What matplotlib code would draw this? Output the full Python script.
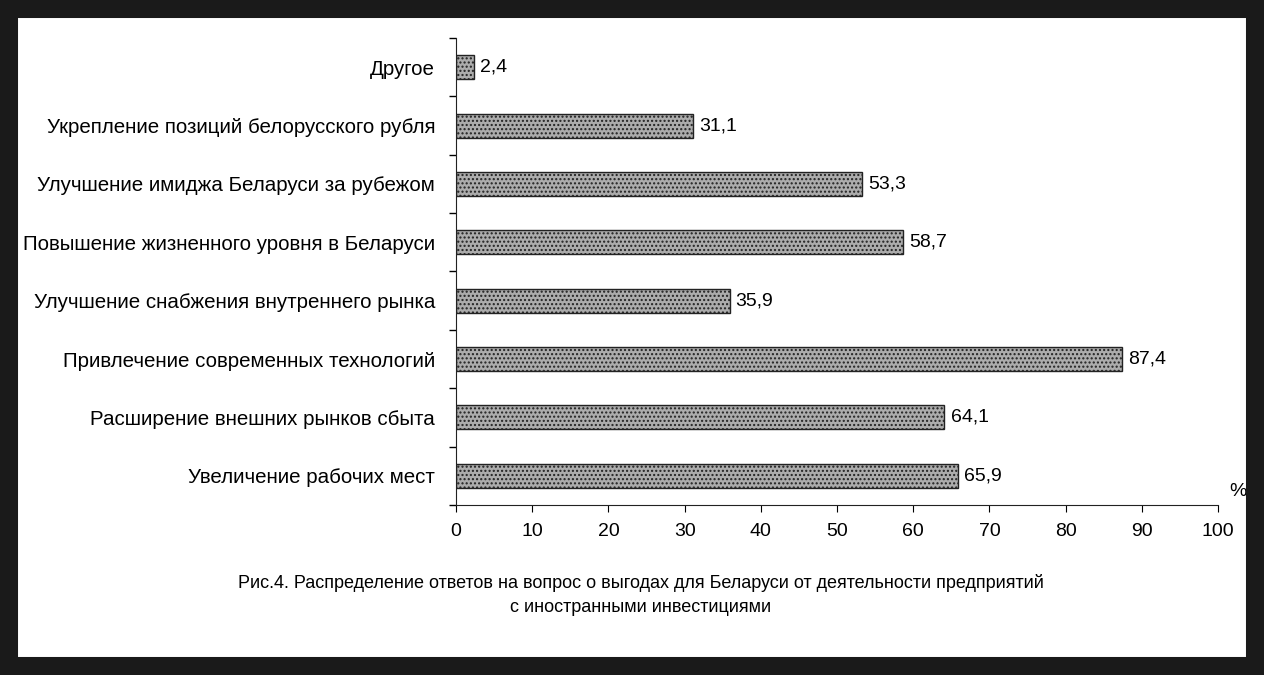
import matplotlib.pyplot as plt
from matplotlib.patches import Rectangle

plt.rcParams['font.family'] = ['Liberation Sans', 'DejaVu Sans']
plt.rcParams['hatch.color'] = '#7a7a7a'

categories = ['Увеличение рабочих мест',
              'Расширение внешних рынков сбыта',
              'Привлечение современных технологий',
              'Улучшение снабжения внутреннего рынка',
              'Повышение жизненного уровня в Беларуси',
              'Улучшение имиджа Беларуси за рубежом',
              'Укрепление позиций белорусского рубля',
              'Другое']
values = [65.9, 64.1, 87.4, 35.9, 58.7, 53.3, 31.1, 2.4]
value_labels = ['65,9', '64,1', '87,4', '35,9', '58,7', '53,3', '31,1', '2,4']
xticks = list(range(0, 101, 10))
caption = ('Рис.4. Распределение ответов на вопрос о выгодах для Беларуси от деятельности предприятий\n'
           'с иностранными инвестициями')

fig = plt.figure(figsize=(12.64, 6.75), dpi=100)
ax = fig.add_axes([0.3608, 0.2519, 0.6028, 0.6918])

pos = list(range(len(categories)))
ax.barh(pos, values, height=0.41, color='#acacac', edgecolor='#222222',
        linewidth=1.0, hatch='....')

for p, v, lab in zip(pos, values, value_labels):
    ax.text(v + 0.8, p, lab, va='center', ha='left', fontsize=14)

ax.set_xlim(0, 100)
ax.set_ylim(-0.5, len(categories) - 0.5)
ax.set_xticks(xticks)
ax.set_yticks(pos)
ax.set_yticklabels(categories)
ax.set_yticks([p - 0.5 for p in pos] + [len(categories) - 0.5], minor=True)
ax.tick_params(axis='y', which='major', length=0, pad=15, labelsize=14.8)
ax.tick_params(axis='y', which='minor', length=5, direction='out', width=1)
ax.tick_params(axis='x', length=5, direction='out', pad=8, labelsize=14)
for s in ['top', 'right']:
    ax.spines[s].set_visible(False)
ax.spines['left'].set_color('#222222')
ax.spines['bottom'].set_color('#222222')

ax.text(1.015, 0.01, '%', transform=ax.transAxes, fontsize=14, ha='left', va='bottom')

fig.text(0.507, 0.118, caption, ha='center', va='center', fontsize=13, linespacing=1.55)

fig.patches.append(Rectangle((9 / 1264, 9 / 675), 1 - 18 / 1264, 1 - 18 / 675,
                             transform=fig.transFigure, fill=False,
                             edgecolor='#1a1a1a', linewidth=13))

fig.savefig('out.png', dpi=100)
